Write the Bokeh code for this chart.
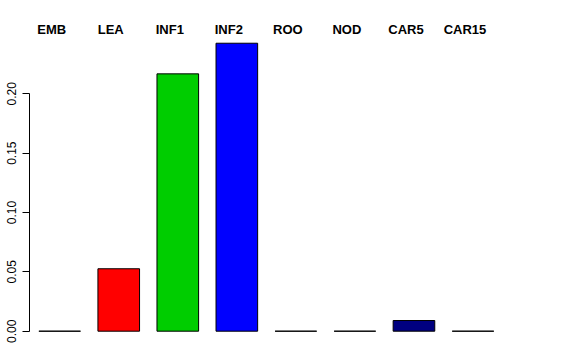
from bokeh.plotting import figure
from bokeh.models import Range1d, FixedTicker, ColumnDataSource
from bokeh.core.properties import value
from bokeh.embed import file_html
from bokeh.resources import INLINE

categories = ["EMB", "LEA", "INF1", "INF2", "ROO", "NOD", "CAR5", "CAR15"]
values = [0.0, 0.0526, 0.2168, 0.2426, 0.0, 0.0, 0.0090, 0.0]
bar_colors = ["#FFFFFF", "#FF0000", "#00CD00", "#0000FF", "#FFFFFF", "#FFFFFF", "#000080", "#FFFFFF"]
y_ticks = [0.0, 0.05, 0.10, 0.15, 0.20]
y_tick_labels = ["0.00", "0.05", "0.10", "0.15", "0.20"]
label_y = 0.2538

idx = list(range(len(categories)))
src = ColumnDataSource(dict(x=idx, top=values, color=bar_colors, cat=categories,
                            ly=[label_y] * len(categories)))

p = figure(width=576, height=360, output_backend="svg", toolbar_location=None,
           x_range=Range1d(-0.5115, 8.160), y_range=Range1d(-0.00952, 0.26175),
           min_border_left=29, min_border_right=35, min_border_top=20, min_border_bottom=18)

p.vbar(x="x", top="top", bottom=0, width=0.705, fill_color="color",
       line_color="black", line_width=1, source=src)

p.text(x="x", y="ly", text="cat", source=src, x_offset=-8,
       text_align="center", text_baseline="middle",
       text_font=value("Liberation Sans"), text_font_style="bold",
       text_font_size="13px", text_color="black")

p.xaxis.visible = False
p.xgrid.visible = False
p.ygrid.visible = False
p.outline_line_color = None

ax = p.yaxis[0]
ax.ticker = FixedTicker(ticks=y_ticks)
ax.major_label_overrides = {t: l for t, l in zip(y_ticks, y_tick_labels)}
ax.bounds = (y_ticks[0], y_ticks[-1])
ax.major_label_orientation = "vertical"
ax.major_label_text_font = "Liberation Sans"
ax.major_label_text_font_size = "12px"
ax.major_label_text_color = "black"
ax.major_label_standoff = 6
ax.major_tick_out = 7
ax.major_tick_in = 0
ax.minor_tick_line_color = None
ax.axis_line_color = "black"
ax.major_tick_line_color = "black"

open("out.html", "w").write(file_html(p, INLINE))
